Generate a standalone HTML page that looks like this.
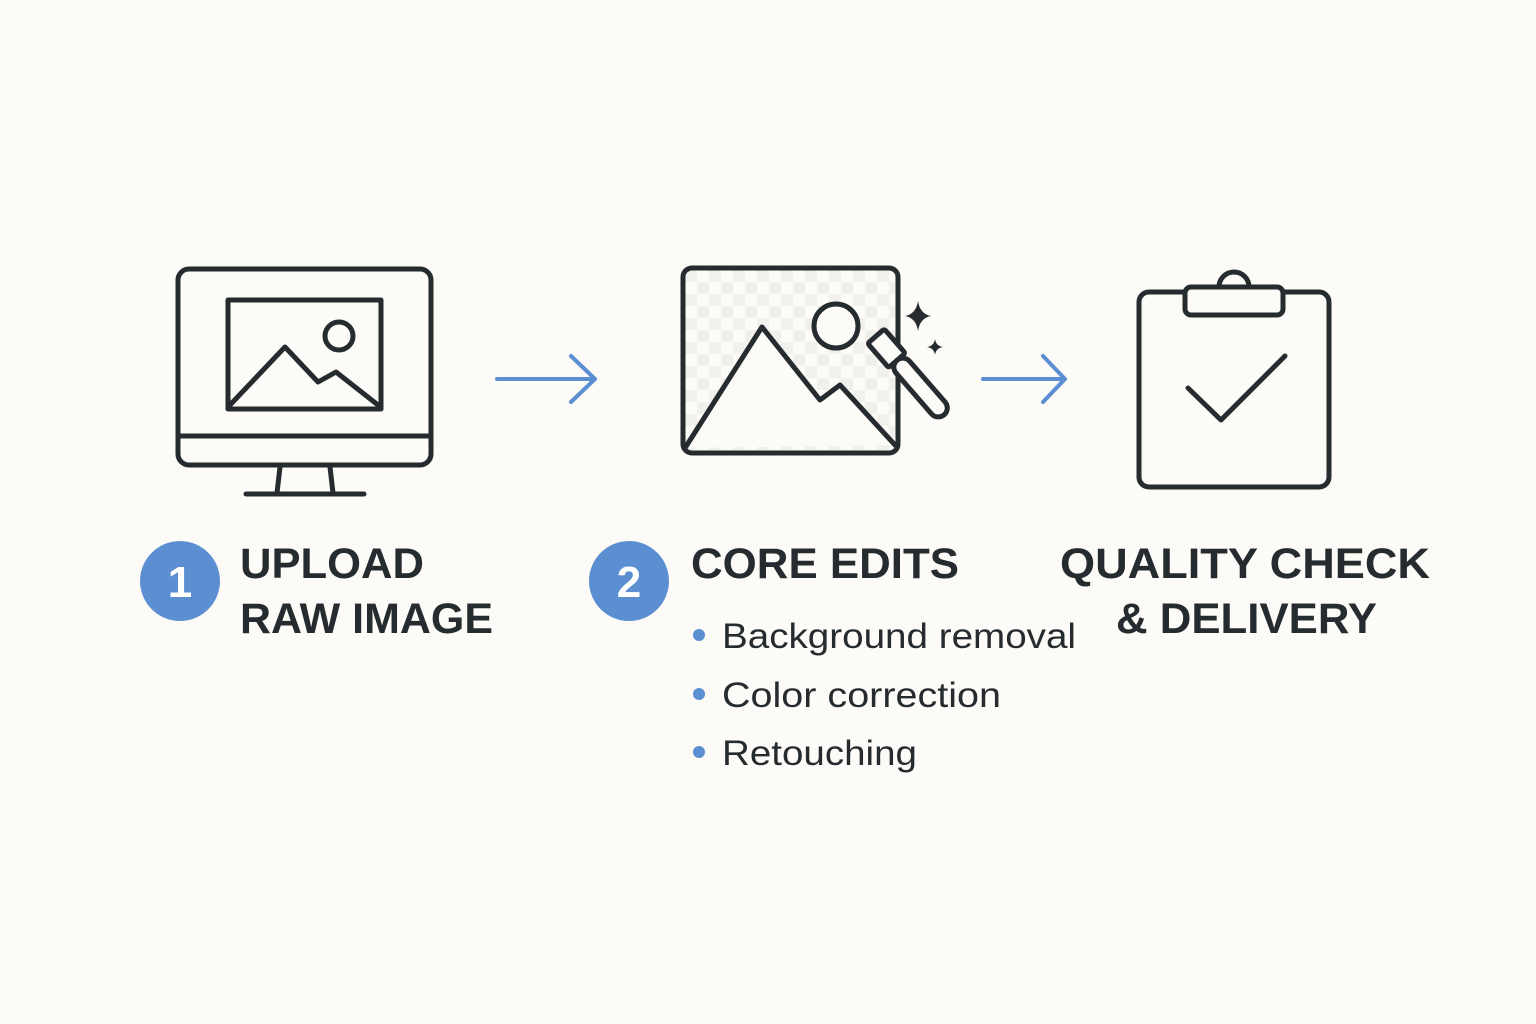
<!DOCTYPE html>
<html><head><meta charset="utf-8"><style>
html,body{margin:0;padding:0;background:#fcfbf7;}
svg{display:block}
text{font-family:"Liberation Sans",sans-serif;fill:#252b2e}
</style></head><body>
<svg width="1536" height="1024" viewBox="0 0 1536 1024" xmlns="http://www.w3.org/2000/svg">
<defs>
<pattern id="chk" x="685" y="270" width="24" height="24" patternUnits="userSpaceOnUse">
<rect width="12" height="12" fill="#f1f0ec"/><rect x="12" y="12" width="12" height="12" fill="#f1f0ec"/>
</pattern>
</defs>
<rect width="1536" height="1024" fill="#fcfbf7"/>
<g fill="none" stroke="#252b2e" stroke-width="5" stroke-linejoin="round" stroke-linecap="round">
<rect x="178" y="269" width="253" height="196" rx="11"/>
<line x1="178" y1="436" x2="431" y2="436"/>
<line x1="280" y1="467" x2="277" y2="493"/>
<line x1="330" y1="467" x2="333" y2="493"/>
<line x1="246" y1="494" x2="364" y2="494"/>
<rect x="228" y="300" width="153" height="109"/>
<circle cx="339" cy="336" r="14"/>
<polyline points="230,405 285,347 318,382 336,372 378,405"/>
<rect x="683" y="268" width="215" height="185" rx="9" fill="url(#chk)"/>
<path d="M685,448 L762,327 L820,400 L840,385 L895,445 Z" fill="#fcfbf7" stroke="none"/>
<polyline points="685,448 762,327 820,400 840,385 895,445"/>
<circle cx="836" cy="326" r="22" fill="#fcfbf7"/>
<g transform="translate(914,380) rotate(49)">
<rect x="-58" y="-11" width="32" height="22" rx="2" fill="#fcfbf7"/>
<rect x="-26" y="-9" width="72" height="18" rx="9" fill="#fcfbf7"/>
</g>
<rect x="1139" y="292" width="190" height="195" rx="10"/>
<path d="M1219,287 a15,15 0 1 1 30,0" />
<rect x="1185" y="287" width="98" height="28" rx="6" fill="#fcfbf7"/>
<polyline points="1188,388 1221,420 1285,356"/>
</g>
<path d="M918,301 Q920,314 931,316 Q920,318 918,331 Q916,318 905,316 Q916,314 918,301Z" fill="#252b2e"/>
<path d="M935,339 Q936,346 943,347 Q936,348 935,355 Q934,348 927,347 Q934,346 935,339Z" fill="#252b2e"/>
<g fill="none" stroke="#5b8fd1" stroke-width="4" stroke-linecap="round" stroke-linejoin="round">
<line x1="497" y1="379" x2="594" y2="379"/><polyline points="571,356 595,379 571,402"/>
<line x1="983" y1="379" x2="1064" y2="379"/><polyline points="1043,356 1065,379 1043,402"/>
</g>
<circle cx="180" cy="581" r="40" fill="#5b8fd1"/>
<text x="180" y="597" text-anchor="middle" font-size="44" font-weight="bold" style="fill:#fff">1</text>
<circle cx="629" cy="581" r="40" fill="#5b8fd1"/>
<text x="629" y="597" text-anchor="middle" font-size="44" font-weight="bold" style="fill:#fff">2</text>
<text x="240" y="578" font-size="43" font-weight="bold" textLength="184" lengthAdjust="spacingAndGlyphs">UPLOAD</text>
<text x="240" y="633" font-size="43" font-weight="bold" textLength="253" lengthAdjust="spacingAndGlyphs">RAW IMAGE</text>
<text x="691" y="578" font-size="43" font-weight="bold" textLength="268" lengthAdjust="spacingAndGlyphs">CORE EDITS</text>
<text x="1060" y="578" font-size="43" font-weight="bold" textLength="370" lengthAdjust="spacingAndGlyphs">QUALITY CHECK</text>
<text x="1116" y="633" font-size="43" font-weight="bold" textLength="261" lengthAdjust="spacingAndGlyphs">&amp; DELIVERY</text>
<g fill="#5b8fd1"><circle cx="699" cy="635" r="6"/><circle cx="699" cy="694" r="6"/><circle cx="699" cy="752" r="6"/></g>
<text x="722" y="648" font-size="35" textLength="354" lengthAdjust="spacingAndGlyphs">Background removal</text>
<text x="722" y="707" font-size="35" textLength="279" lengthAdjust="spacingAndGlyphs">Color correction</text>
<text x="722" y="765" font-size="35" textLength="195" lengthAdjust="spacingAndGlyphs">Retouching</text>
</svg>
</body></html>
